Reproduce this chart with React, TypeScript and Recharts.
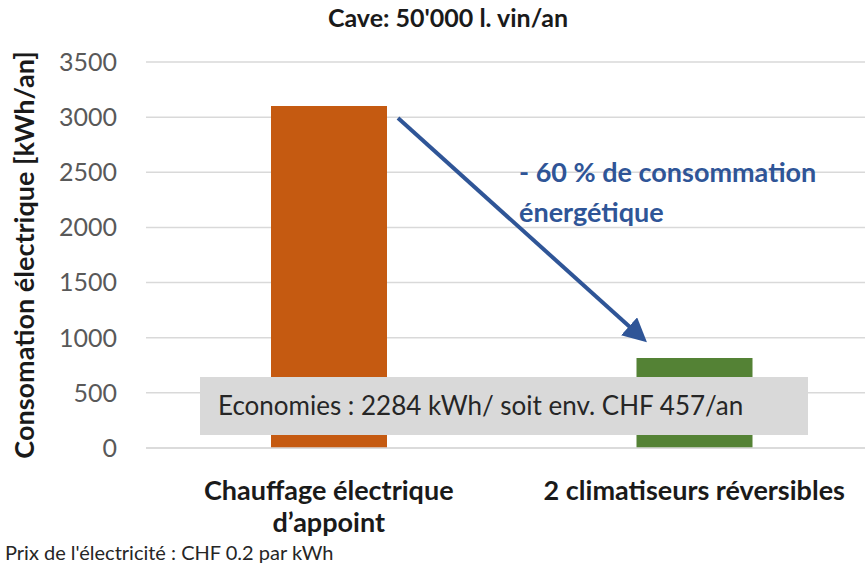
import React from 'react';
import { BarChart, Bar, XAxis, YAxis, CartesianGrid, Cell } from 'recharts';

const categories = ['Chauffage électrique|d’appoint', '2 climatiseurs réversibles'];
const consumption = [3100, 816];
const barColors = ['#c55a11', '#548235'];
const yTicks = [0, 500, 1000, 1500, 2000, 2500, 3000, 3500];

const data = categories.map((name, i) => ({ name, value: consumption[i] }));

const FONT = 'Lato, "Open Sans", sans-serif';

function CategoryTick(props: any) {
    const { x, y, payload } = props;
    const lines = String(payload.value).split('|');
    return (
        <g transform={`translate(${x},${y})`}>
            {lines.map((l, i) => (
                <text
                    key={i}
                    x={0}
                    y={i * 32}
                    dy={44}
                    textAnchor="middle"
                    fontFamily={FONT}
                    fontWeight="bold"
                    fontSize={27}
                    fill="#1a1a1a"
                >
                    {l}
                </text>
            ))}
        </g>
    );
}

export default function App() {
    return (
        <div style={{ position: 'absolute', left: 0, top: 0, width: 865, height: 566, overflow: 'hidden', background: '#fff', fontFamily: FONT }}>
            <BarChart
                width={880}
                height={566}
                data={data}
                margin={{ top: 62, right: 3, bottom: 0, left: 0 }}
                barCategoryGap="34%"
            >
                <CartesianGrid vertical={false} stroke="#d9d9d9" strokeWidth={1.5} />
                <XAxis
                    dataKey="name"
                    height={118}
                    axisLine={{ stroke: '#d9d9d9', strokeWidth: 1.5 }}
                    tickLine={false}
                    tick={<CategoryTick />}
                    interval={0}
                />
                <YAxis
                    width={146}
                    domain={[0, 3500]}
                    ticks={yTicks}
                    axisLine={false}
                    tickLine={false}
                    tickSize={0}
                    tickMargin={29}
                    tick={{ fontSize: 25, fill: '#595959', fontFamily: FONT }}
                    label={{
                        value: 'Consomation électrique [kWh/an]',
                        angle: -90,
                        position: 'insideLeft',
                        offset: 24,
                        style: { textAnchor: 'middle', fontSize: 27, fontWeight: 'bold', fill: '#1a1a1a', fontFamily: FONT },
                    }}
                />
                <Bar dataKey="value" barSize={116} isAnimationActive={false}>
                    {data.map((d, i) => (
                        <Cell key={d.name} fill={barColors[i]} />
                    ))}
                </Bar>
            </BarChart>

            {/* annotations overlay */}
            <svg width={865} height={566} style={{ position: 'absolute', left: 0, top: 0, pointerEvents: 'none' }}>
                <defs>
                    <marker id="ah" markerWidth="6" markerHeight="6" refX="4" refY="3" orient="auto" markerUnits="strokeWidth">
                        <path d="M0,0 L6,3 L0,6 Z" fill="#2f5597" />
                    </marker>
                </defs>
                <text x={448} y={27} textAnchor="middle" fontFamily={FONT} fontWeight="bold" fontSize={25} fill="#1a1a1a">
                    Cave: 50'000 l. vin/an
                </text>
                <line x1={398} y1={118} x2={641} y2={337} stroke="#2f5597" strokeWidth={4} markerEnd="url(#ah)" />
                <text x={519} y={182} fontFamily={FONT} fontWeight="bold" fontSize={27} fill="#2f5597">
                    - 60 % de consommation
                </text>
                <text x={519} y={222} fontFamily={FONT} fontWeight="bold" fontSize={27} fill="#2f5597">
                    énergétique
                </text>
                <rect x={200} y={377} width={608} height={58} fill="#d9d9d9" />
                <text x={218} y={415} fontFamily={FONT} fontSize={26} fill="#262626">
                    Economies : 2284 kWh/ soit env. CHF 457/an
                </text>
                <text x={5} y={560} fontFamily={FONT} fontSize={20} fill="#262626">
                    Prix de l'électricité : CHF 0.2 par kWh
                </text>
            </svg>
        </div>
    );
}
